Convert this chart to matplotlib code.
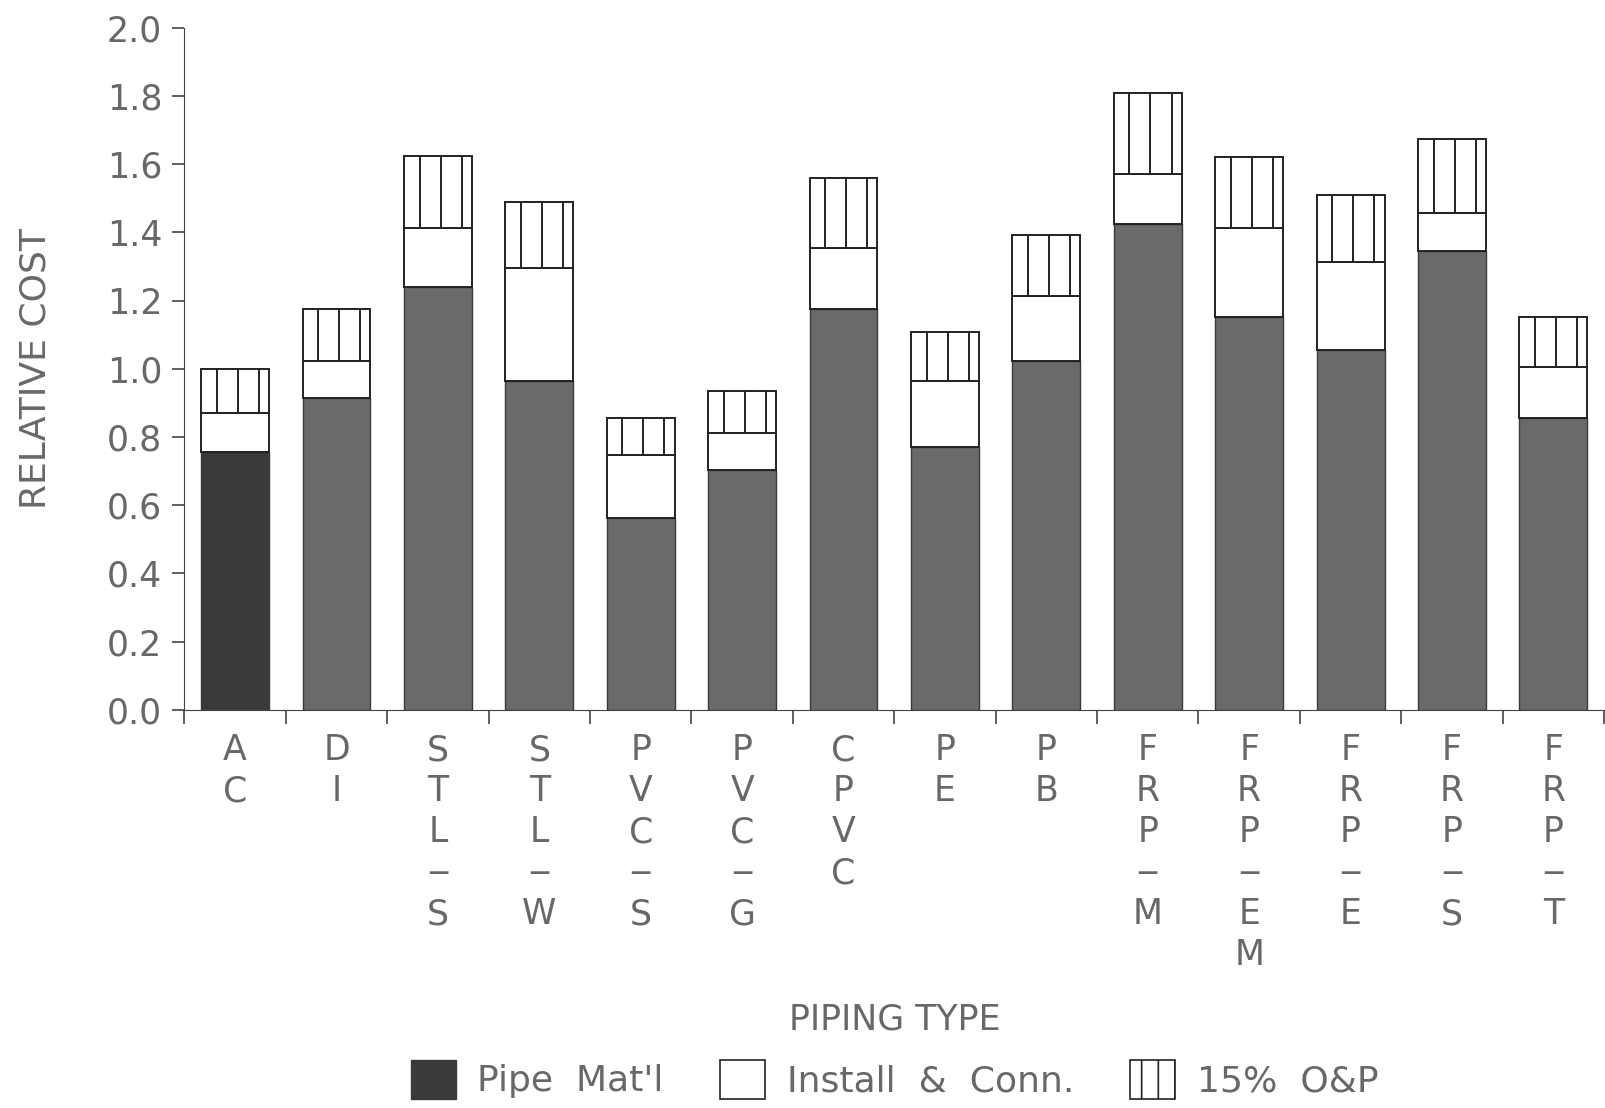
import numpy as np
import matplotlib.pyplot as plt
from matplotlib.patches import Patch

# piping types, letters stacked vertically on the axis
piping = ["AC", "DI", "STL-S", "STL-W", "PVC-S", "PVC-G", "CPVC",
          "PE", "PB", "FRP-M", "FRP-EM", "FRP-E", "FRP-S", "FRP-T"]

# cost components (relative to AC total = 1.0)
pipe_mat = [0.755, 0.913, 1.240, 0.964, 0.562, 0.703, 1.174,
            0.772, 1.024, 1.423, 1.153, 1.054, 1.345, 0.856]
install = [0.115, 0.111, 0.174, 0.330, 0.186, 0.108, 0.180,
           0.192, 0.189, 0.148, 0.261, 0.258, 0.111, 0.150]
op_15 = [0.130, 0.150, 0.211, 0.196, 0.108, 0.123, 0.205,
         0.144, 0.180, 0.237, 0.208, 0.198, 0.217, 0.147]

yticks = [0.0, 0.2, 0.4, 0.6, 0.8, 1.0, 1.2, 1.4, 1.6, 1.8, 2.0]

txt = "#686868"
plt.rcParams['font.family'] = ['DejaVu Sans']
plt.rcParams['hatch.linewidth'] = 1.2


def stack_label(name):
    parts = name.split("-")
    out = ["\n".join(list(p)) for p in parts]
    return "\n\u2012\n".join(out)


fig = plt.figure(figsize=(16.06, 11.08), dpi=100)
ax = fig.add_axes([0.1148, 0.3594, 0.884, 0.6156])

x = np.arange(len(piping)) + 0.5
w = 0.67
mat_colors = ["#3a3a3a"] + ["#6a6a6a"] * (len(piping) - 1)
mid = np.array(pipe_mat) + np.array(install)
top = mid + np.array(op_15)

ax.bar(x, pipe_mat, w, color=mat_colors, edgecolor="#3a3a3a", linewidth=1.0)
ax.bar(x, install, w, bottom=pipe_mat, color="white", edgecolor="#222222", linewidth=1.4)
ax.bar(x, op_15, w, bottom=mid, color="white", edgecolor="#222222", linewidth=1.4)

# vertical hatch lines of the O&P segment
for xi, b, t in zip(x, mid, top):
    for f in (0.23, 0.54, 0.85):
        ax.vlines(xi - w / 2 + f * w, b, t, color="#222222", linewidth=1.4)

ax.set_xlim(0, len(piping))
ax.set_ylim(0, 2.0)
ax.spines['top'].set_visible(False)
ax.spines['right'].set_visible(False)
ax.spines['left'].set_color("#444444")
ax.spines['bottom'].set_color("#444444")

ax.set_yticks(yticks)
ax.set_yticklabels([f"{v:.1f}" for v in yticks])
ax.tick_params(axis='y', direction='out', length=9, width=1.2, colors="#444444",
               labelsize=25, labelcolor=txt, pad=7)

ax.set_xticks(x)
ax.set_xticklabels([stack_label(p) for p in piping], va='top', linespacing=1.26)
ax.set_xticks(np.arange(len(piping) + 1), minor=True)
ax.tick_params(axis='x', which='major', length=0, labelsize=25, labelcolor=txt, pad=17)
ax.tick_params(axis='x', which='minor', direction='out', length=10, width=1.2,
               colors="#444444")

fig.text(0.022, 0.667, "RELATIVE COST", rotation=90, ha='center', va='center',
         fontsize=26, color=txt)
fig.text(0.557, 0.080, "PIPING TYPE", ha='center', va='center', fontsize=25, color=txt)

handles = [
    Patch(facecolor="#3a3a3a", edgecolor="#3a3a3a"),
    Patch(facecolor="white", edgecolor="#222222", linewidth=1.2),
    Patch(facecolor="white", edgecolor="#222222", linewidth=1.2, hatch="|"),
]
fig.legend(handles, ["Pipe  Mat'l", "Install  &  Conn.", "15%  O&P"],
           loc='center', bbox_to_anchor=(0.557, 0.026), ncol=3, frameon=False,
           fontsize=26, labelcolor=txt, handlelength=1.25, handleheight=1.3,
           handletextpad=0.6, columnspacing=1.55)

fig.savefig("out.png", dpi=100)
